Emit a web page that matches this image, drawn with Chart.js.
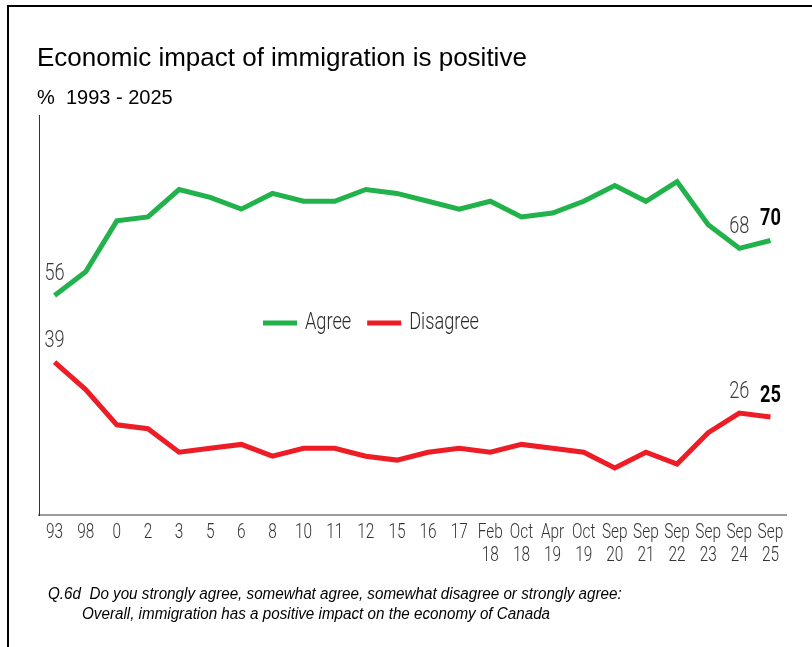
<!DOCTYPE html>
<html>
<head>
<meta charset="utf-8">
<title>Economic impact of immigration is positive</title>
<script src="https://cdn.jsdelivr.net/npm/chart.js@4"></script>
<style>
  html, body { margin: 0; padding: 0; background: #fff; }
  #wrap { position: relative; width: 812px; height: 647px; }
</style>
</head>
<body>
<div id="wrap"><canvas id="chart" width="812" height="647"></canvas></div>
<script>
// survey waves, 1993 - 2025
const periods = [['93'], ['98'], ['0'], ['2'], ['3'], ['5'], ['6'], ['8'], ['10'], ['11'], ['12'], ['15'], ['16'], ['17'],
  ['Feb', '18'], ['Oct', '18'], ['Apr', '19'], ['Oct', '19'], ['Sep', '20'], ['Sep', '21'], ['Sep', '22'], ['Sep', '23'], ['Sep', '24'], ['Sep', '25']];
const agree    = [56, 62, 75, 76, 83, 81, 78, 82, 80, 80, 83, 82, 80, 78, 80, 76, 77, 80, 84, 80, 85, 74, 68, 70];
const disagree = [39, 32, 23, 22, 16, 17, 18, 15, 17, 17, 15, 14, 16, 17, 16, 18, 17, 16, 12, 16, 13, 21, 26, 25];
// which points get a number written above them (last one in bold)
const labelled = [0, 22, 23];

const titleText = 'Economic impact of immigration is positive';
const subText = '%  1993 - 2025';
const note1 = 'Q.6d  Do you strongly agree, somewhat agree, somewhat disagree or strongly agree:';
const note2 = 'Overall, immigration has a positive impact on the economy of Canada';

const GREEN = '#22b24c';
const RED = '#ee1c25';
const sans = '"Liberation Sans", Arial, sans-serif';
const light = 'Roboto, "Noto Sans", sans-serif';
const SQUEEZE = 0.77;

// draw text narrowed horizontally (condensed look)
function narrowText(ctx, text, x, y, sx) {
  ctx.save();
  ctx.translate(x, y);
  ctx.scale(sx, 1);
  ctx.fillText(text, 0, 0);
  ctx.restore();
}

const decor = {
  id: 'decor',
  beforeDraw(chart) {
    const ctx = chart.ctx;
    ctx.save();
    ctx.fillStyle = '#fff';
    ctx.fillRect(0, 0, chart.width, chart.height);
    // frame: top and left rules
    ctx.fillStyle = '#000';
    ctx.fillRect(7, 5, chart.width - 7, 2);
    ctx.fillRect(7, 5, 2, chart.height - 5);

    ctx.textAlign = 'left';
    ctx.textBaseline = 'alphabetic';
    ctx.font = '26px ' + sans;
    ctx.fillText(titleText, 37, 66);
    ctx.font = '20px ' + sans;
    ctx.fillText(subText, 37, 104);

    ctx.font = 'italic 16px ' + sans;
    narrowText(ctx, note1, 48, 599, 0.95);
    narrowText(ctx, note2, 82, 619, 0.95);
    ctx.restore();
  },
  afterDraw(chart) {
    const ctx = chart.ctx;
    const xs = chart.scales.x;
    ctx.save();
    // category labels, one or two lines
    ctx.fillStyle = '#333';
    ctx.font = '300 20px ' + light;
    ctx.textAlign = 'center';
    ctx.textBaseline = 'middle';
    periods.forEach((lines, i) => {
      const px = xs.getPixelForTick(i);
      lines.forEach((t, k) => narrowText(ctx, t, px, chart.chartArea.bottom + 18 + k * 23, SQUEEZE));
    });
    ctx.restore();
  },
  afterDatasetsDraw(chart) {
    const ctx = chart.ctx;
    ctx.save();
    // legend inside the plot
    let x = 263;
    const y = 323;
    ctx.font = '300 23px ' + light;
    ctx.textAlign = 'left';
    ctx.textBaseline = 'middle';
    chart.data.datasets.forEach(ds => {
      ctx.strokeStyle = ds.borderColor;
      ctx.lineWidth = 5;
      ctx.beginPath();
      ctx.moveTo(x, y);
      ctx.lineTo(x + 34, y);
      ctx.stroke();
      ctx.fillStyle = '#2a2a2a';
      narrowText(ctx, ds.label, x + 42, y, SQUEEZE + 0.02);
      x += 42 + ctx.measureText(ds.label).width * (SQUEEZE + 0.02) + 16;
    });

    // value labels
    ctx.textAlign = 'center';
    ctx.textBaseline = 'middle';
    chart.data.datasets.forEach((ds, di) => {
      const meta = chart.getDatasetMeta(di);
      labelled.forEach(i => {
        const pt = meta.data[i];
        const last = i === ds.data.length - 1;
        ctx.font = (last ? 'bold ' : '300 ') + '23px ' + light;
        ctx.fillStyle = last ? '#000' : '#3a3a3a';
        narrowText(ctx, String(ds.data[i]), pt.x, pt.y - 21, SQUEEZE + 0.02);
      });
    });
    ctx.restore();
  }
};

new Chart(document.getElementById('chart'), {
  type: 'line',
  data: {
    labels: periods,
    datasets: [
      { label: 'Agree', data: agree, borderColor: GREEN, backgroundColor: GREEN },
      { label: 'Disagree', data: disagree, borderColor: RED, backgroundColor: RED }
    ]
  },
  options: {
    responsive: false,
    animation: false,
    clip: false,
    layout: { padding: { left: 39, top: 115, right: 26, bottom: 82 } },
    elements: {
      line: { borderWidth: 5, tension: 0 },
      point: { radius: 0, hoverRadius: 0 }
    },
    plugins: {
      legend: { display: false },
      tooltip: { enabled: false }
    },
    scales: {
      x: {
        offset: true,
        grid: { display: false, drawTicks: false },
        border: { display: true, color: '#9a9a9a', width: 2 },
        ticks: { display: false, autoSkip: false },
        afterFit(scale) { scale.height = 50; }
      },
      y: {
        min: 0,
        max: 102,
        grid: { display: false, drawTicks: false },
        border: { display: true, color: '#333', width: 1 },
        ticks: { display: false },
        afterFit(scale) { scale.width = 0; }
      }
    }
  },
  plugins: [decor]
});
</script>
</body>
</html>
